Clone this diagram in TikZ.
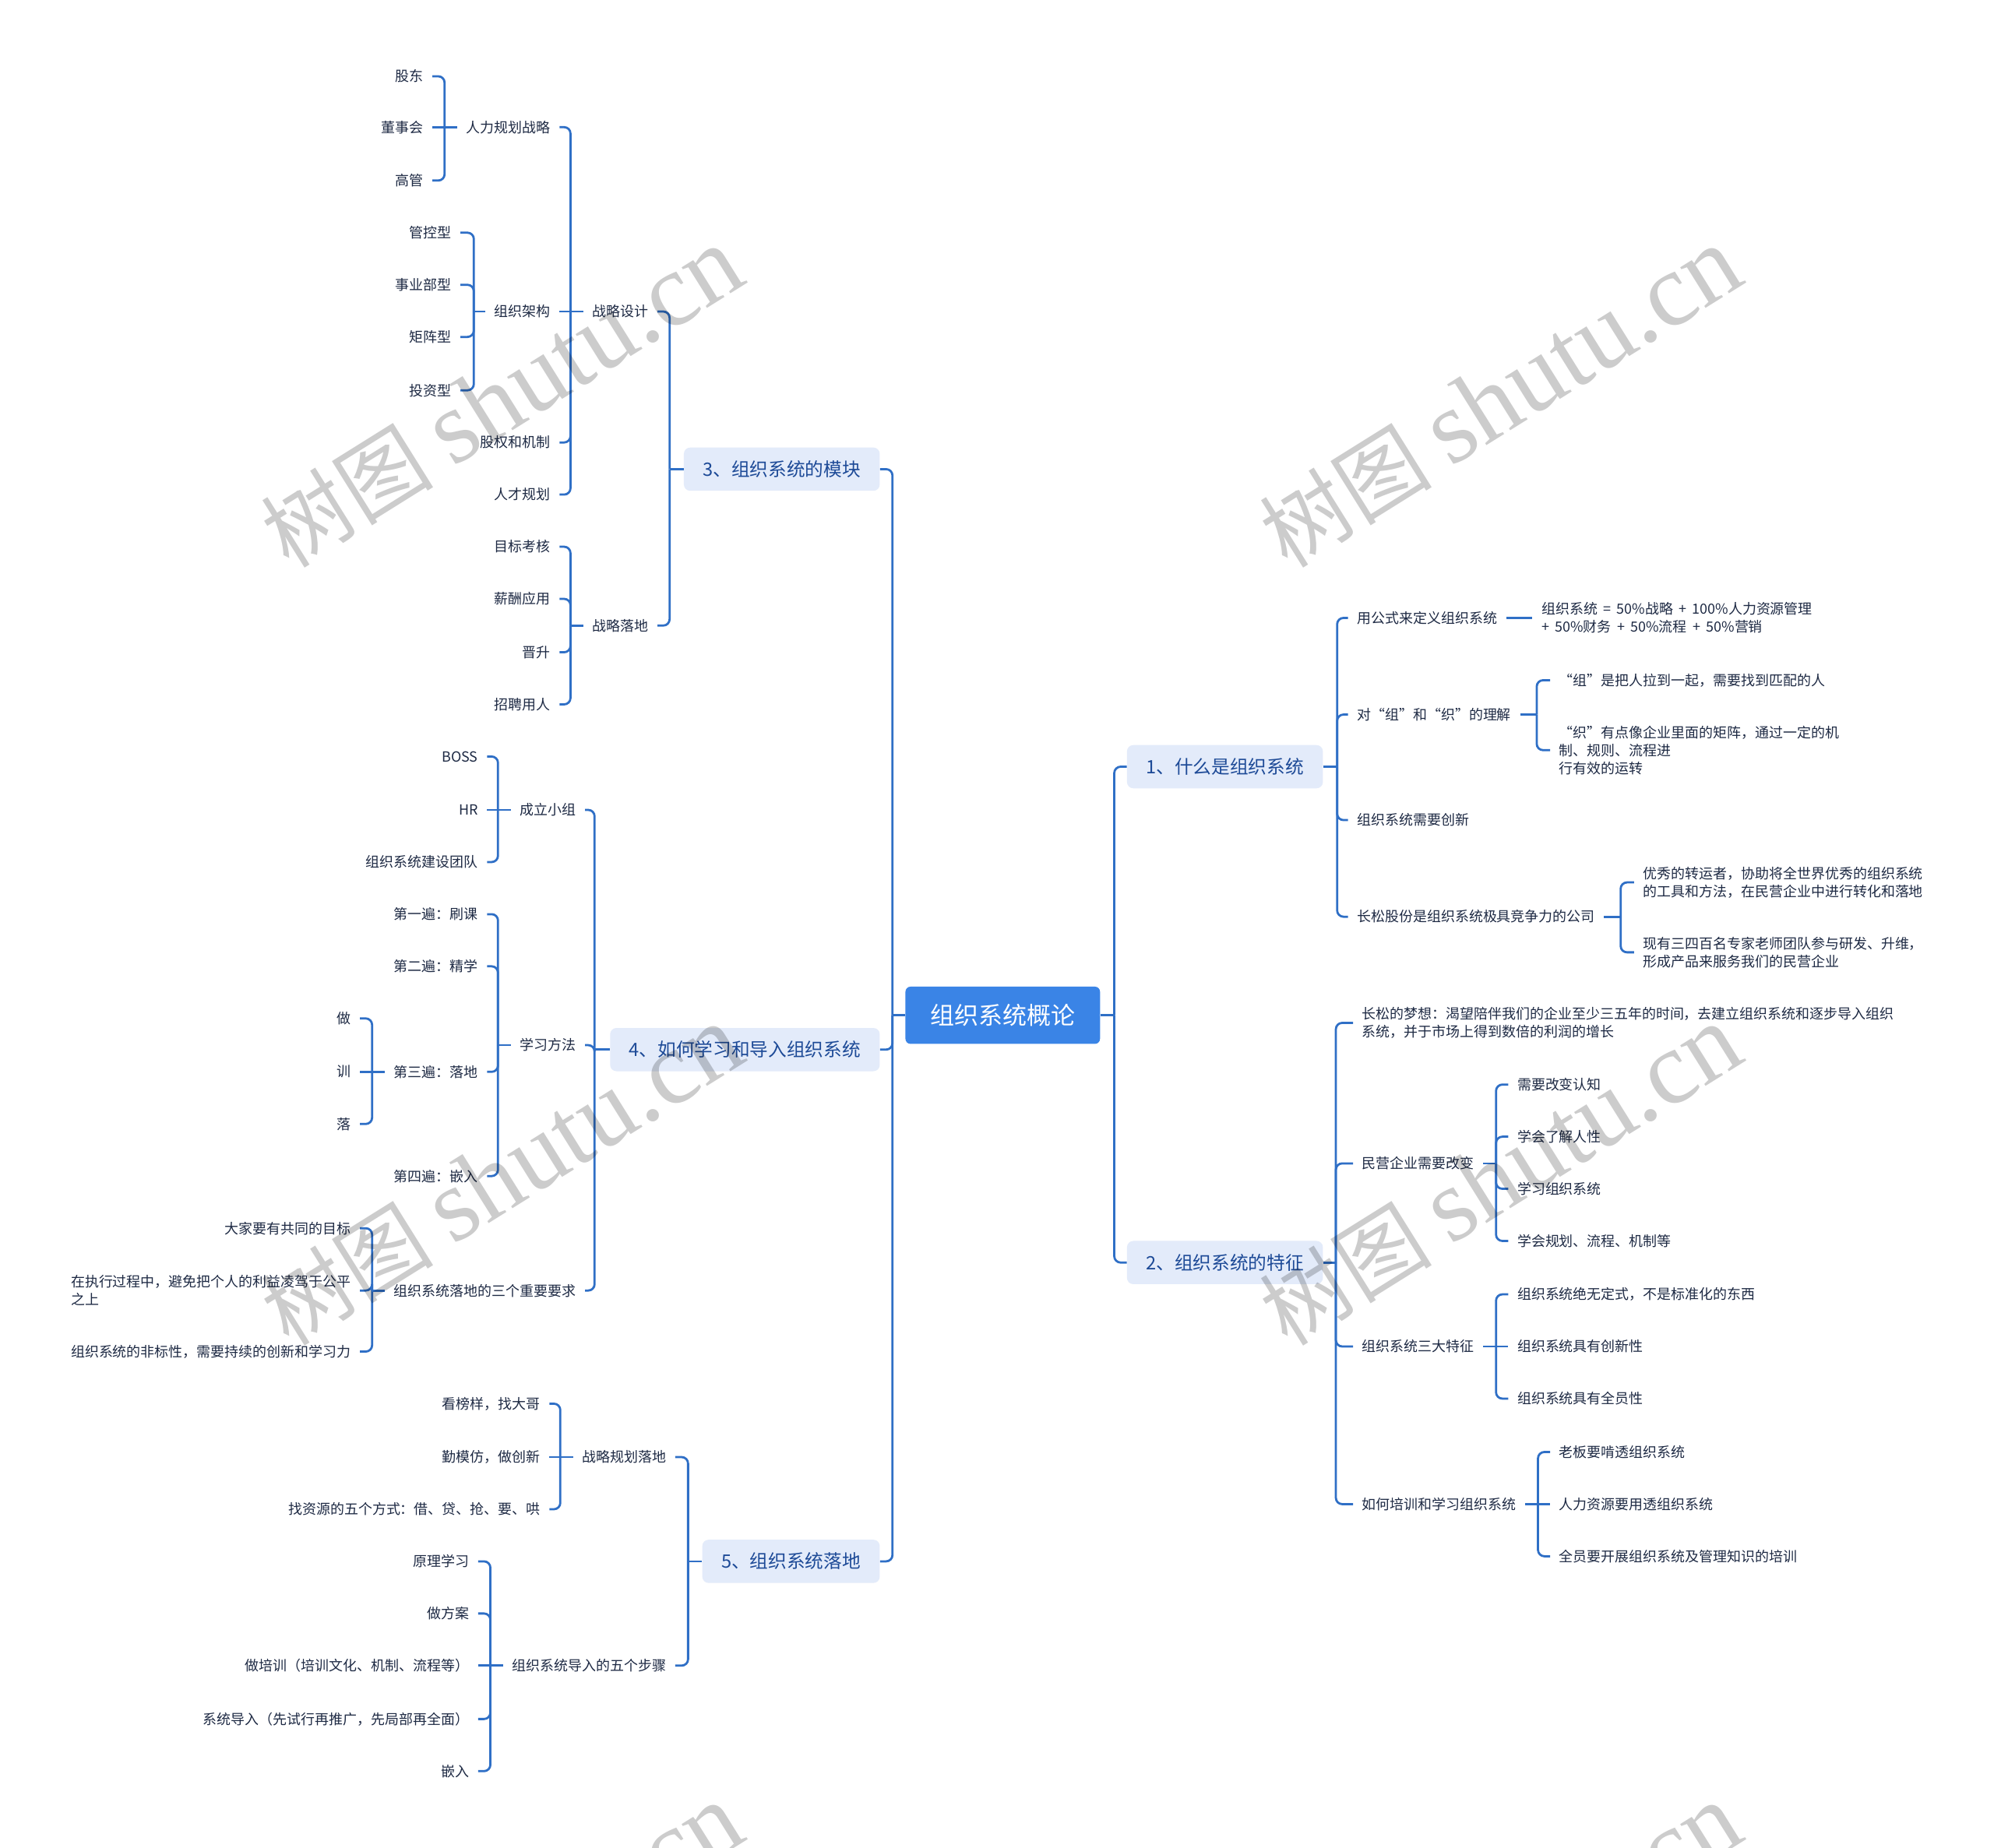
\documentclass[tikz,border=0pt]{standalone}
\usepackage{fontspec}
\setmainfont{Noto Sans CJK SC}
\newfontfamily\wmlatin{Liberation Serif}
\newfontfamily\fwq[RawFeature=+fwid]{Noto Sans CJK SC}
\usetikzlibrary{calc}
\definecolor{lineblue}{HTML}{2F6FC6}
\definecolor{centerblue}{HTML}{3A84E6}
\definecolor{branchfill}{HTML}{E3EBFA}
\definecolor{branchtext}{HTML}{1D4A97}
\definecolor{leaftext}{HTML}{1E2A44}
\newcommand\qo{{\fwq “}}
\newcommand\qc{{\fwq ”}}
\newcommand\wsp{\hskip 4.5pt\relax}
\newcommand\treeL[3]{%
  \coordinate (#1-j) at ($(#1.west)+(-#2,0)$);
  \draw[conn] (#1.west) -- (#1-j);
  \foreach \kid in {#3}{\draw[conn] (#1-j) |- (\kid.east);}}
\newcommand\treeR[3]{%
  \coordinate (#1-j) at ($(#1.east)+(#2,0)$);
  \draw[conn] (#1.east) -- (#1-j);
  \foreach \kid in {#3}{\draw[conn] (#1-j) |- (\kid.west);}}
\newcommand\flatL[2]{\draw[conn] (#1-j) -- (#2.east);}
\newcommand\flatR[2]{\draw[conn] (#1-j) -- (#2.west);}
\begin{document}
\begin{tikzpicture}[x=1pt,y=-1pt,
  conn/.style={draw=lineblue, line width=1.7pt, rounded corners=5pt},
  leaf/.style={font=\fontsize{11}{14}\selectfont, text=leaftext, inner ysep=2pt, inner xsep=7pt, align=left},
  L/.style={leaf, anchor=east, xshift=7pt},
  R/.style={leaf, anchor=west, xshift=-7pt},
  branch/.style={fill=branchfill, rounded corners=5pt, text=branchtext, font=\fontsize{14.5}{17}\selectfont, inner xsep=15pt, inner ysep=0pt, minimum height=34pt},
  centre/.style={fill=centerblue, rounded corners=4pt, text=white, font=\fontsize{19}{22}\selectfont, minimum width=153pt, minimum height=45pt, inner sep=0pt},
  wm/.style={rotate=32, text=black, opacity=0.2, inner sep=0pt}
]
\fill[white] (0,0) rectangle (1568,1453);
\useasboundingbox (0,0) rectangle (1568,1453);

% centre and main branches
\node[centre] (c) at (788.5,798.5) {组织系统概论};
\node[branch, anchor=east] (b3) at (692,369) {3、组织系统的模块};
\node[branch, anchor=east] (b4) at (692,825.5) {4、如何学习和导入组织系统};
\node[branch, anchor=east] (b5) at (692,1228) {5、组织系统落地};
\node[branch, anchor=west] (b1) at (886,603) {1、什么是组织系统};
\node[branch, anchor=west] (b2) at (886,993) {2、组织系统的特征};

% branch 3
\node[L] (gd) at (333,60) {股东};
\node[L] (dsh) at (333,100) {董事会};
\node[L] (gg) at (333,142) {高管};
\node[L] (hr) at (433,100) {人力规划战略};
\node[L] (gk) at (355,183) {管控型};
\node[L] (sy) at (355,224) {事业部型};
\node[L] (jz) at (355,265) {矩阵型};
\node[L] (tz) at (355,307) {投资型};
\node[L] (org) at (433,245) {组织架构};
\node[L] (gq) at (433,348) {股权和机制};
\node[L] (rc) at (433,389) {人才规划};
\node[L] (s3a) at (510,245) {战略设计};
\node[L] (mb) at (433,430) {目标考核};
\node[L] (xc) at (433,471) {薪酬应用};
\node[L] (js) at (433,513) {晋升};
\node[L] (zp) at (433,554) {招聘用人};
\node[L] (s3b) at (510,492) {战略落地};

% branch 4
\node[L] (boss) at (376,595) {BOSS};
\node[L] (hrr) at (376,637) {HR};
\node[L] (team) at (376,678) {组织系统建设团队};
\node[L] (cl) at (453,637) {成立小组};
\node[L] (p1) at (376,719) {第一遍：刷课};
\node[L] (p2) at (376,760) {第二遍：精学};
\node[L] (p3) at (376,843) {第三遍：落地};
\node[L] (p4) at (376,925) {第四遍：嵌入};
\node[L] (zuo) at (276,801) {做};
\node[L] (xun) at (276,843) {训};
\node[L] (luo) at (276,884) {落};
\node[L] (xf) at (453,822) {学习方法};
\node[L] (q1) at (276,966) {大家要有共同的目标};
\node[L] (q2) at (276,1015) {在执行过程中，避免把个人的利益凌驾于公平\\之上};
\node[L] (q3) at (276,1063) {组织系统的非标性，需要持续的创新和学习力};
\node[L] (yq) at (453,1015) {组织系统落地的三个重要要求};

% branch 5
\node[L] (k1) at (425,1104) {看榜样，找大哥};
\node[L] (k2) at (425,1146) {勤模仿，做创新};
\node[L] (k3) at (425,1187) {找资源的五个方式：借、贷、抢、要、哄};
\node[L] (gh) at (524,1146) {战略规划落地};
\node[L] (d1) at (369,1228) {原理学习};
\node[L] (d2) at (369,1269) {做方案};
\node[L] (d3) at (369,1310) {做培训（培训文化、机制、流程等）};
\node[L] (d4) at (369,1352) {系统导入（先试行再推广，先局部再全面）};
\node[L] (d5) at (369,1393) {嵌入};
\node[L] (dr) at (524,1310) {组织系统导入的五个步骤};

% branch 1
\node[R] (r1a) at (1067,486) {用公式来定义组织系统};
\node[R] (f1) at (1212,486) {组织系统\wsp=\wsp 50\%战略\wsp+\wsp 100\%人力资源管理\\+\wsp 50\%财务\wsp+\wsp 50\%流程\wsp+\wsp 50\%营销};
\node[R] (r1b) at (1067,562) {对\qo 组\qc 和\qo 织\qc 的理解};
\node[R] (z1) at (1226,535) {\qo 组\qc 是把人拉到一起，需要找到匹配的人};
\node[R] (z2) at (1226,590) {\qo 织\qc 有点像企业里面的矩阵，通过一定的机\\制、规则、流程进\\行有效的运转};
\node[R] (r1c) at (1067,645) {组织系统需要创新};
\node[R] (r1d) at (1067,721) {长松股份是组织系统极具竞争力的公司};
\node[R] (c1) at (1292,694) {优秀的转运者，协助将全世界优秀的组织系统\\的工具和方法，在民营企业中进行转化和落地};
\node[R] (c2) at (1292,749) {现有三四百名专家老师团队参与研发、升维，\\形成产品来服务我们的民营企业};

% branch 2
\node[R] (r2a) at (1071,804.5) {长松的梦想：渴望陪伴我们的企业至少三五年的时间，去建立组织系统和逐步导入组织\\系统，并于市场上得到数倍的利润的增长};
\node[R] (r2b) at (1071,915) {民营企业需要改变};
\node[R] (m1) at (1193,853) {需要改变认知};
\node[R] (m2) at (1193,894) {学会了解人性};
\node[R] (m3) at (1193,935) {学习组织系统};
\node[R] (m4) at (1193,976) {学会规划、流程、机制等};
\node[R] (r2c) at (1071,1059) {组织系统三大特征};
\node[R] (t1) at (1193,1018) {组织系统绝无定式，不是标准化的东西};
\node[R] (t2) at (1193,1059) {组织系统具有创新性};
\node[R] (t3) at (1193,1100) {组织系统具有全员性};
\node[R] (r2d) at (1071,1183) {如何培训和学习组织系统};
\node[R] (h1) at (1226,1142) {老板要啃透组织系统};
\node[R] (h2) at (1226,1183) {人力资源要用透组织系统};
\node[R] (h3) at (1226,1224) {全员要开展组织系统及管理知识的培训};

% connectors
\treeL{c}{10}{b3,b4,b5}
\treeR{c}{11}{b1,b2}
\treeL{b3}{11}{s3a,s3b}
\treeL{s3a}{10}{hr,gq,rc}\flatL{s3a}{org}
\treeL{hr}{10}{gd,gg}\flatL{hr}{dsh}
\treeL{org}{9}{gk,sy,jz,tz}
\treeL{s3b}{10}{mb,xc,js,zp}
\treeL{b4}{12}{cl,xf,yq}
\treeL{cl}{10}{boss,team}\flatL{cl}{hrr}
\treeL{xf}{10}{p1,p2,p3,p4}
\treeL{p3}{10}{zuo,luo}\flatL{p3}{xun}
\treeL{yq}{10}{q1,q2,q3}
\treeL{b5}{11}{gh,dr}
\treeL{gh}{10}{k1,k3}\flatL{gh}{k2}
\treeL{dr}{10}{d1,d2,d4,d5}\flatL{dr}{d3}
\treeR{b1}{11}{r1a,r1b,r1c,r1d}
\draw[conn] (r1a.east) -- (f1.west);
\treeR{r1b}{13}{z1,z2}
\treeR{r1d}{13}{c1,c2}
\treeR{b2}{10}{r2a,r2b,r2c,r2d}
\treeR{r2b}{10}{m1,m2,m3,m4}
\treeR{r2c}{10}{t1,t3}\flatR{r2c}{t2}
\treeR{r2d}{10}{h1,h3}\flatR{r2d}{h2}

% watermarks
\foreach \wx/\wy [count=\i] in {395/313,1180/313,395/925,1180/925,395/1537,1180/1537}{
  \node[wm] (wm\i) at (\wx,\wy) {\fontsize{68}{68}\selectfont 树图 {\wmlatin\fontsize{82}{82}\selectfont shutu.cn}};
}
\end{tikzpicture}
\end{document}
